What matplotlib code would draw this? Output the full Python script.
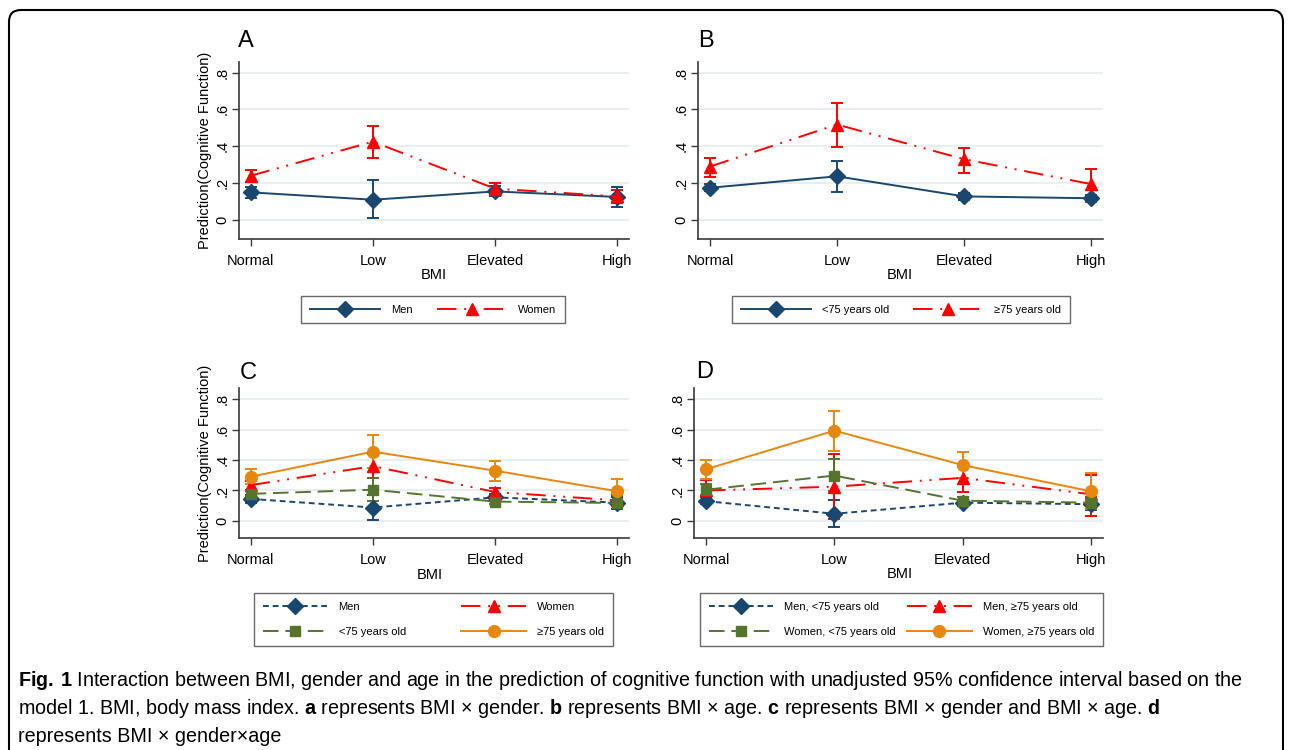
import matplotlib
matplotlib.use("Agg")
import matplotlib.pyplot as plt
from matplotlib.patches import FancyBboxPatch
from matplotlib.lines import Line2D
import numpy as np

plt.rcParams['font.family'] = ['Liberation Sans', 'DejaVu Sans']
plt.rcParams['mathtext.fontset'] = 'custom'
plt.rcParams['mathtext.bf'] = 'Liberation Sans:bold'
plt.rcParams['mathtext.rm'] = 'Liberation Sans'

SANS = ['Liberation Sans', 'DejaVu Sans']

cats = ['Normal', 'Low', 'Elevated', 'High']

# panel A: BMI x gender
a_men = [0.15, 0.11, 0.155, 0.125]
a_men_lo = [0.12, 0.01, 0.13, 0.07]
a_men_hi = [0.18, 0.215, 0.185, 0.178]
a_women = [0.24, 0.425, 0.17, 0.128]
a_women_lo = [0.205, 0.335, 0.145, 0.09]
a_women_hi = [0.27, 0.51, 0.20, 0.165]

# panel B: BMI x age
b_young = [0.175, 0.237, 0.128, 0.118]
b_young_lo = [0.155, 0.15, 0.11, 0.10]
b_young_hi = [0.195, 0.322, 0.148, 0.138]
b_old = [0.29, 0.518, 0.33, 0.195]
b_old_lo = [0.232, 0.398, 0.257, 0.097]
b_old_hi = [0.335, 0.636, 0.389, 0.277]

# panel C: BMI x gender and BMI x age
c_men = [0.145, 0.088, 0.155, 0.12]
c_men_lo = [0.12, 0.008, 0.13, 0.08]
c_men_hi = [0.17, 0.17, 0.18, 0.16]
c_women = [0.235, 0.36, 0.19, 0.135]
c_women_lo = [0.205, 0.28, 0.165, 0.10]
c_women_hi = [0.265, 0.44, 0.215, 0.17]
c_young = [0.178, 0.205, 0.127, 0.118]
c_young_lo = [0.155, 0.13, 0.11, 0.10]
c_young_hi = [0.20, 0.28, 0.145, 0.14]
c_old = [0.29, 0.455, 0.33, 0.195]
c_old_lo = [0.24, 0.345, 0.262, 0.097]
c_old_hi = [0.34, 0.565, 0.394, 0.273]

# panel D: BMI x gender x age
d_men_young = [0.13, 0.047, 0.12, 0.11]
d_men_young_lo = [0.11, -0.04, 0.097, 0.07]
d_men_young_hi = [0.155, 0.136, 0.14, 0.15]
d_men_old = [0.20, 0.225, 0.283, 0.175]
d_men_old_lo = [0.14, 0.01, 0.19, 0.034]
d_men_old_hi = [0.27, 0.44, 0.37, 0.30]
d_women_young = [0.205, 0.298, 0.133, 0.12]
d_women_young_lo = [0.17, 0.195, 0.11, 0.08]
d_women_young_hi = [0.24, 0.405, 0.155, 0.16]
d_women_old = [0.34, 0.593, 0.367, 0.195]
d_women_old_lo = [0.275, 0.46, 0.28, 0.08]
d_women_old_hi = [0.402, 0.725, 0.453, 0.313]

NAVY = '#1a476f'
RED = '#ff0000'
GREEN = '#55752f'
ORANGE = '#e8870e'

DASHDOT = (0, (10, 4, 1, 4, 1, 4))
SHORT = (0, (3, 2))
LONG = (0, (8, 3.5))

STYLES = {
    'navy_solid': dict(color=NAVY, ls='-', marker='D', ms=8),
    'navy_dash': dict(color=NAVY, ls=SHORT, marker='D', ms=8),
    'red': dict(color=RED, ls=DASHDOT, marker='^', ms=8.5),
    'green': dict(color=GREEN, ls=LONG, marker='s', ms=7.5),
    'orange': dict(color=ORANGE, ls='-', marker='o', ms=8.5),
}

W, H = 1292, 750
fig = plt.figure(figsize=(W / 100, H / 100), dpi=100)


def px_axes(l, t, r, b):
    return fig.add_axes([l / W, 1 - b / H, (r - l) / W, (b - t) / H])


def style_axes(ax, ylim):
    for s in ['top', 'right']:
        ax.spines[s].set_visible(False)
    for s in ['left', 'bottom']:
        ax.spines[s].set_color('#3a3a3a')
        ax.spines[s].set_linewidth(1.2)
    ax.set_xlim(-0.095, 3.095)
    ax.set_ylim(*ylim)
    ax.set_xticks(range(4))
    ax.set_xticklabels(cats, fontsize=10.5)
    ax.set_yticks([0, 0.2, 0.4, 0.6, 0.8])
    ax.set_yticklabels(['0', '.2', '.4', '.6', '.8'], fontsize=10.5,
                       rotation=90, va='center')
    ax.tick_params(axis='both', length=5, width=1, color='#3a3a3a')
    ax.tick_params(axis='x', pad=6)
    ax.tick_params(axis='y', pad=2)
    ax.grid(axis='y', color='#e6eef1', lw=1.3)
    ax.set_axisbelow(True)


def plot_series(ax, y, lo, hi, style, label):
    y, lo, hi = np.array(y), np.array(lo), np.array(hi)
    st = STYLES[style]
    ax.errorbar(range(4), y, yerr=[y - lo, hi - y], color=st['color'],
                ls=st['ls'], lw=1.4, marker=st['marker'], ms=st['ms'],
                capsize=4.5, elinewidth=1.4, capthick=1.4)
    # legend proxy without the error bars
    return Line2D([], [], color=st['color'], ls=st['ls'], lw=1.4,
                  marker=st['marker'], ms=st['ms'], label=label)


axA = px_axes(239, 62, 629, 239)
axB = px_axes(698, 62, 1103, 239)
axC = px_axes(239, 388, 629, 538)
axD = px_axes(694, 388, 1103, 538)

style_axes(axA, (-0.103, 0.857))
style_axes(axB, (-0.103, 0.857))
style_axes(axC, (-0.112, 0.873))
style_axes(axD, (-0.112, 0.873))

hA = [plot_series(axA, a_men, a_men_lo, a_men_hi, 'navy_solid', 'Men'),
      plot_series(axA, a_women, a_women_lo, a_women_hi, 'red', 'Women')]

hB = [plot_series(axB, b_young, b_young_lo, b_young_hi, 'navy_solid', '<75 years old'),
      plot_series(axB, b_old, b_old_lo, b_old_hi, 'red', '\u226575 years old')]

hC = [plot_series(axC, c_men, c_men_lo, c_men_hi, 'navy_dash', 'Men'),
      plot_series(axC, c_women, c_women_lo, c_women_hi, 'red', 'Women'),
      plot_series(axC, c_young, c_young_lo, c_young_hi, 'green', '<75 years old'),
      plot_series(axC, c_old, c_old_lo, c_old_hi, 'orange', '\u226575 years old')]

hD = [plot_series(axD, d_men_young, d_men_young_lo, d_men_young_hi, 'navy_dash', 'Men, <75 years old'),
      plot_series(axD, d_men_old, d_men_old_lo, d_men_old_hi, 'red', 'Men, \u226575 years old'),
      plot_series(axD, d_women_young, d_women_young_lo, d_women_young_hi, 'green', 'Women, <75 years old'),
      plot_series(axD, d_women_old, d_women_old_lo, d_women_old_hi, 'orange', 'Women, \u226575 years old')]


def fx(x):
    return x / W


def fy(y):
    return 1 - y / H


# panel letters, axis titles
for letter, x, y in [('A', 238, 47), ('B', 698, 47), ('C', 240, 379), ('D', 696, 378)]:
    fig.text(fx(x), fy(y), letter, fontsize=17, va='baseline', ha='left')
for y in [150.5, 463]:
    fig.text(fx(205), fy(y), 'Prediction(Cognitive Function)', fontsize=10.5,
             rotation=90, ha='center', va='center')
for x, y in [(434, 275), (900, 275), (430, 575), (900, 574)]:
    fig.text(fx(x), fy(y), 'BMI', fontsize=10.5, ha='center', va='center')


def add_legend(handles, cx, cy, size, colsp, hl=6.3, order=None):
    if order:
        handles = [handles[i] for i in order]
    leg = fig.legend(handles=handles, loc='center', bbox_to_anchor=(fx(cx), fy(cy)),
                     ncol=2, frameon=True, fancybox=False, edgecolor='#444444',
                     prop={'family': SANS, 'size': size}, handlelength=hl,
                     handletextpad=1.0, columnspacing=colsp, borderpad=0.8,
                     labelspacing=1.3)
    leg.get_frame().set_linewidth(1.0)
    return leg


add_legend(hA, 433, 309.5, 8, 2.2)
add_legend(hB, 901, 309.5, 8, 2.2)
add_legend(hC, 433.5, 619.5, 8, 5.0, hl=5.8, order=[0, 2, 1, 3])
add_legend(hD, 901.5, 619.5, 8, 1.0, hl=5.8, order=[0, 2, 1, 3])

# outer rounded frame
frame = FancyBboxPatch((0.09, -0.3), 12.74, 7.70,
                       boxstyle='round,pad=0,rounding_size=0.12',
                       transform=fig.dpi_scale_trans, fill=False,
                       lw=1.5, ec='black')
fig.patches.append(frame)

# caption
cap = [
    r'$\mathbf{Fig.\,1}$ Interaction between BMI, gender and age in the prediction of cognitive function with unadjusted 95% confidence interval based on the',
    r'model 1. BMI, body mass index. $\mathbf{a}$ represents BMI XX gender. $\mathbf{b}$ represents BMI XX age. $\mathbf{c}$ represents BMI XX gender and BMI XX age. $\mathbf{d}$',
    'represents BMI XX genderXXage',
]
cap = [c.replace('XX', '\u00d7') for c in cap]
for line, y in zip(cap, [686, 714, 742]):
    fig.text(fx(18), fy(y), line, fontsize=14.2, family=SANS, va='baseline', ha='left')

fig.savefig('out.png', dpi=100)
